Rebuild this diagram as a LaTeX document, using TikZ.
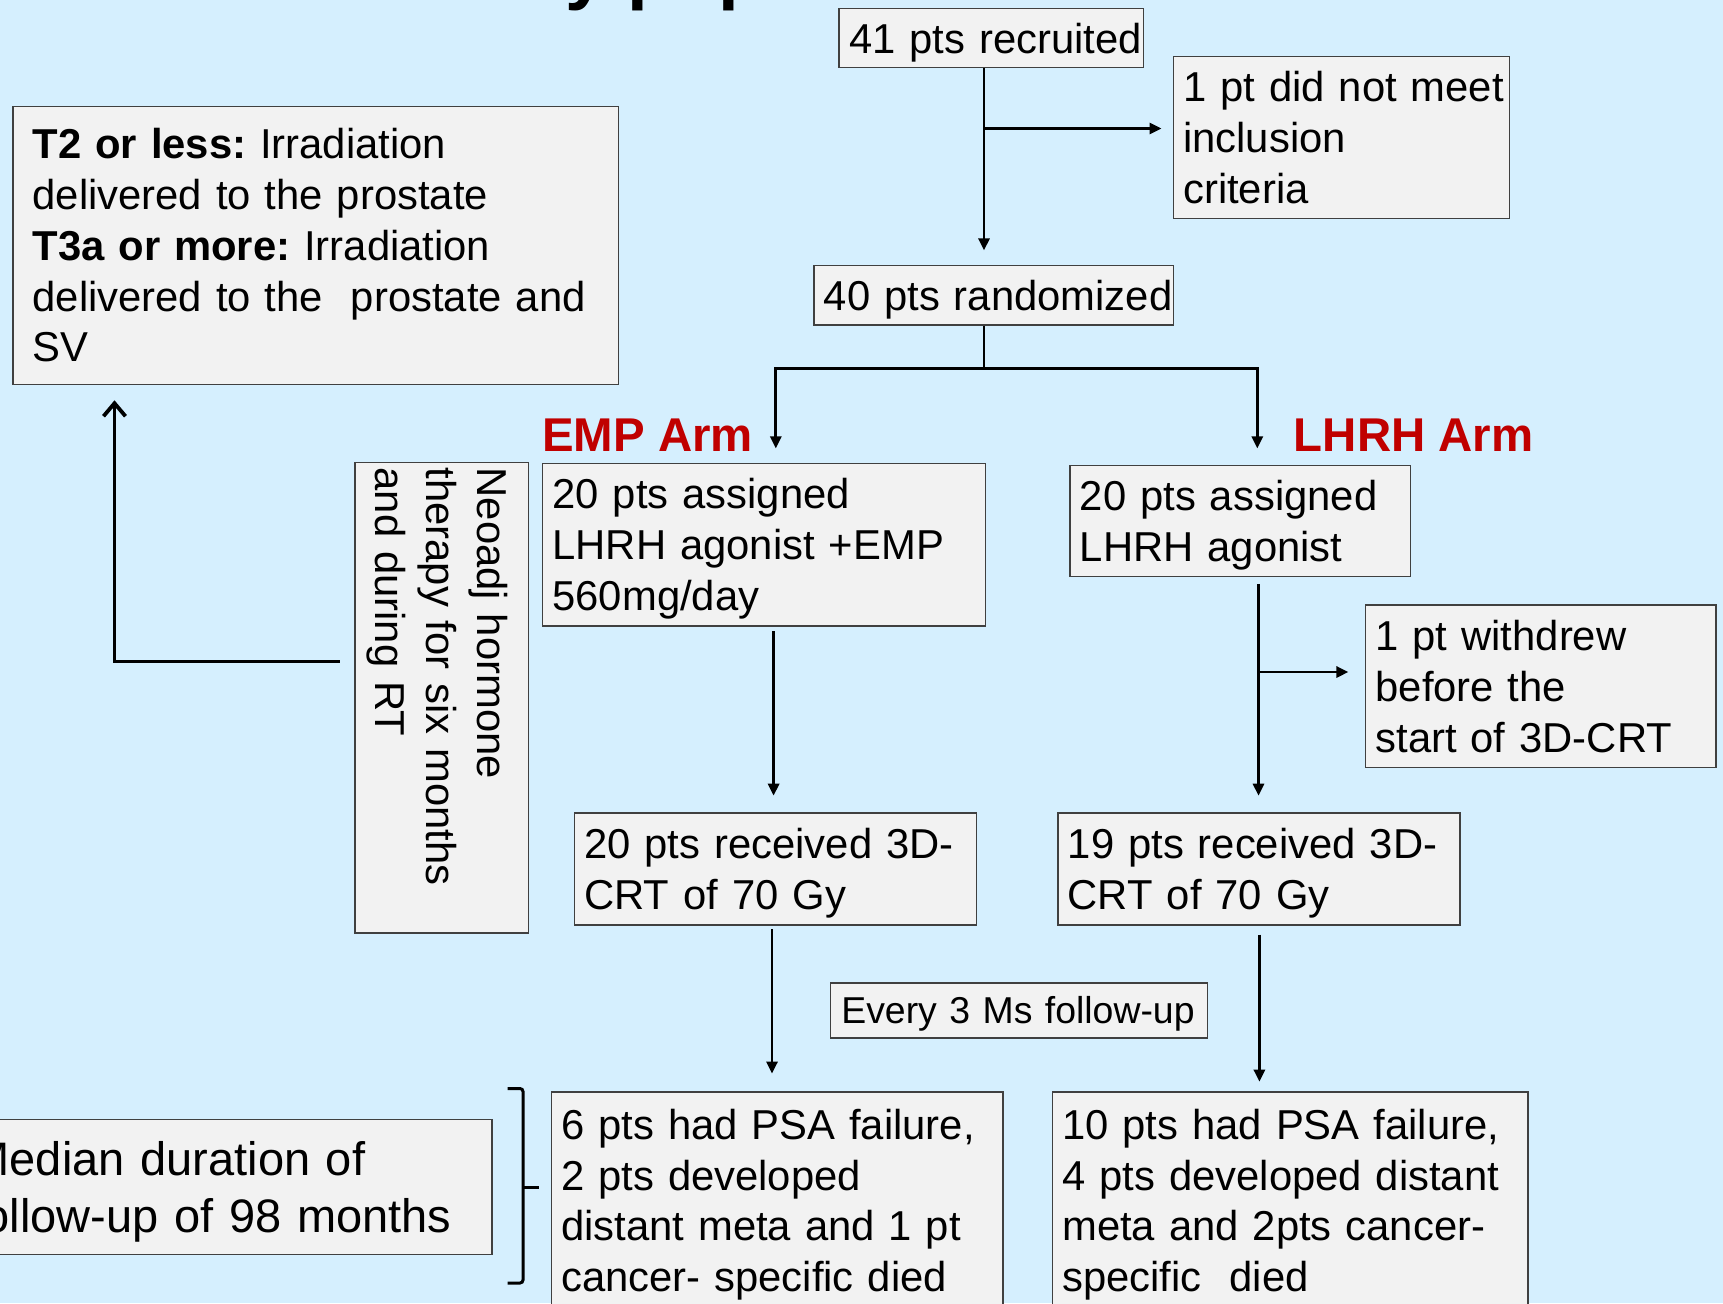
\documentclass[tikz,border=0pt]{standalone}
\usepackage{fontspec}
\setmainfont{Liberation Sans}
\usetikzlibrary{arrows.meta}
\definecolor{bgblue}{HTML}{D5EFFE}
\definecolor{boxfill}{HTML}{F2F2F2}
\definecolor{boxline}{HTML}{404040}
\definecolor{armred}{HTML}{C00000}
\newcommand\stA{\rule[-5.25pt]{0pt}{25.45pt}}
\newcommand\stM{\rule[-5.85pt]{0pt}{28.5pt}}
\newcommand\stE{\rule[-4.65pt]{0pt}{22.7pt}}
\newcommand\fA{\fontsize{20.9pt}{25.45pt}\selectfont}
\newcommand\fM{\fontsize{23.5pt}{28.5pt}\selectfont}
\newcommand\fE{\fontsize{18.7pt}{22.7pt}\selectfont}
\begin{document}
\frenchspacing
\begin{tikzpicture}[x=0.5pt,y=-0.5pt,
  boxbase/.style={draw=boxline, fill=boxfill, line width=0.7pt, anchor=north west, align=left, inner xsep=5pt, inner ysep=0pt},
  box/.style={boxbase, font=\fA, execute at begin node=\stA, execute at end node=\stA},
  boxM/.style={boxbase, font=\fM, execute at begin node=\stM, execute at end node=\stM},
  boxE/.style={boxbase, font=\fE, execute at begin node=\stE, execute at end node=\stE},
  conn/.style={line width=1.4pt, -{Triangle[length=6pt,width=5.5pt]}},
  armlabel/.style={text=armred, font=\fontsize{23.7pt}{28pt}\selectfont\bfseries, anchor=west, inner sep=0pt},
]
\path[use as bounding box, fill=bgblue] (0,0) rectangle (1723,1303);

% title (cut off at the top edge, as in the reference)
\node[anchor=base west, inner sep=0pt, font=\fontsize{37.25pt}{40pt}\selectfont\bfseries] (title) at (399.5,-5) {Study population};

% boxes
\node[box, text width=142.25pt, minimum height=29.65pt] (A) at (838.4,7.7) {\mbox{41 pts recruited}};
\node[box, text width=158.15pt, minimum height=80.75pt] (B) at (1172.5,56) {\mbox{1 pt did not meet}\\inclusion\\criteria};
\node[box, text width=169.65pt, minimum height=29.65pt] (C) at (813.2,264.8) {\mbox{40 pts randomized}};
\node[box, inner xsep=9.9pt, text width=282.95pt, minimum height=139pt] (D) at (12.1,105.5)
  {\textbf{T2 or less:} Irradiation\\delivered to the prostate\\\textbf{T3a or more:} Irradiation\\delivered to the\ \ prostate and\\SV};
\node[box, text width=211.45pt, minimum height=81.3pt] (G) at (541.8,462.6) {20 pts assigned\\LHRH agonist +EMP\\560mg/day};
\node[box, text width=160.35pt, minimum height=55.5pt] (H) at (1069.2,464.8) {20 pts assigned\\LHRH agonist};
\node[box, anchor=center, rotate=-90, inner xsep=2.5pt, text width=230.2pt, minimum height=86.8pt] (I) at (441.8,697.8)
  {Neoadj hormone\\therapy for six months\\and during RT};
\node[box, text width=165.3pt, minimum height=81.3pt] (J) at (1364.8,604.4) {1 pt withdrew\\before the\\start of 3D-CRT};
\node[box, text width=191.1pt, minimum height=56.05pt] (K) at (573.6,812.1) {\mbox{20 pts received 3D-}\\CRT of 70 Gy};
\node[box, text width=191.1pt, minimum height=56.05pt] (L) at (1057.1,812.1) {\mbox{19 pts received 3D-}\\CRT of 70 Gy};
\node[boxE, inner xsep=5.45pt, text width=177.55pt, minimum height=27.45pt] (M) at (829.7,982.4) {\mbox{Every 3 Ms follow-up}};
\node[box, text width=215.8pt, minimum height=108.6pt] (N) at (550.5,1091.2)
  {\mbox{6 pts had PSA failure,}\\2 pts developed\\\mbox{distant meta and 1 pt}\\\mbox{cancer- specific died}};
\node[box, text width=227.9pt, minimum height=108.6pt] (O) at (1051.6,1091.2)
  {\mbox{10 pts had PSA failure,}\\\mbox{4 pts developed distant}\\\mbox{meta and 2pts cancer-}\\specific\ \ died};
\node[boxM, inner xsep=10pt, text width=250.6pt, minimum height=67.55pt] (P) at (-50,1118.7)
  {Median duration of\\\mbox{follow-up of 98 months}};

% arm labels
\node[armlabel] (emp) at (541.8,435) {EMP Arm};
\node[armlabel] (lhrh) at (1293.4,435) {LHRH Arm};

% connectors
\coordinate (xa) at (984,0);
\draw[conn, shorten >=7.2pt] (A.south -| xa) -- (C.north -| xa);
\coordinate (ba) at (984,128.5);
\draw[conn, shorten >=5.5pt] (ba) -- (ba -| B.west);
\coordinate (sp) at (984,368.5);
\coordinate (xl) at (775.8,368.5);
\coordinate (xr) at (1257.3,368.5);
\draw[conn, shorten >=7.1pt] (C.south -| sp) -- (sp) -| (G.north -| xl);
\draw[conn, shorten >=8.2pt] (sp) -| (H.north -| xr);
\coordinate (xg) at (773.6,0);
\draw[conn, shorten <=2.2pt, shorten >=8.2pt] (G.south -| xg) -- (K.north -| xg);
\coordinate (xh) at (1258.5,0);
\draw[conn, shorten <=3.3pt, shorten >=8.2pt] (H.south -| xh) -- (L.north -| xh);
\coordinate (bh) at (1258.5,672);
\draw[conn, shorten >=8.2pt] (bh) -- (bh -| J.west);
\coordinate (xk) at (772,0);
\draw[conn, shorten <=1.7pt, shorten >=8.8pt] (K.south -| xk) -- (N.north -| xk);
\coordinate (xo) at (1259.4,0);
\draw[conn, shorten <=4.5pt, shorten >=4.75pt] (L.south -| xo) -- (O.north -| xo);
\coordinate (la) at (114.5,661.5);
\draw[line width=1.7pt, -{Straight Barb[length=6.5pt,width=11pt,line width=1.9pt]}, shorten <=7.2pt, shorten >=7.7pt]
  (la -| I.south) -| (la |- D.south);

% bracket
\coordinate (bk1) at (507.5,1088.5);
\coordinate (bk2) at (523,1088.5);
\coordinate (bk3) at (523,1283);
\coordinate (bk4) at (507.5,1283);
\coordinate (bk5) at (523,1187);
\coordinate (bk6) at (539,1187);
\draw[line width=1.5pt, rounded corners=1.5pt] (bk1) -- (bk2) -- (bk3) -- (bk4);
\draw[line width=1.5pt] (bk5) -- (bk6);
\end{tikzpicture}
\end{document}
